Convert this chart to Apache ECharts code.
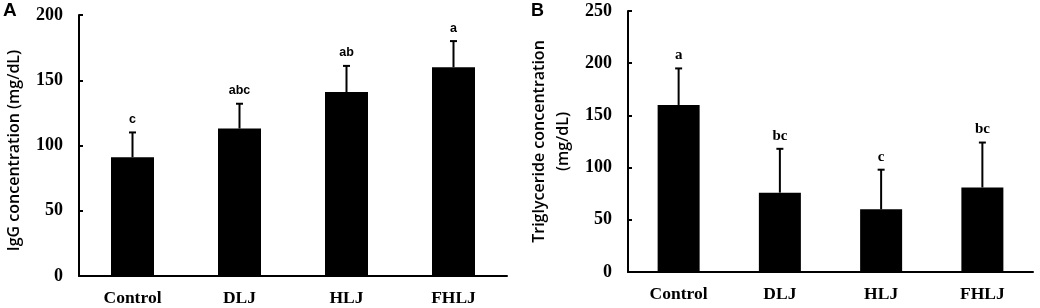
<!DOCTYPE html>
<html>
<head>
<meta charset="utf-8">
<script src="https://cdn.jsdelivr.net/npm/echarts@6/dist/echarts.min.js"></script>
<style>
  html, body { margin: 0; padding: 0; background: #fff; }
  #chart { width: 1040px; height: 308px; }
</style>
</head>
<body>
<div id="chart"></div>
<script>
var groups = ['Control', 'DLJ', 'HLJ', 'FHLJ'];

// panel A: IgG
var iggMean = [91, 113, 141, 160];
var iggUpper = [110, 132, 161, 180];
var iggLetters = ['c', 'abc', 'ab', 'a'];

// panel B: triglyceride
var tgMean = [160, 76, 60, 81];
var tgUpper = [195, 118, 98, 124];
var tgLetters = ['a', 'bc', 'c', 'bc'];

var serif = 'Liberation Serif';
var sans = 'Open Sans';

function errData(mean, upper, letters) {
  return groups.map(function (g, i) { return [i, mean[i], upper[i], letters[i]]; });
}

function errRender(letterFont, letterSize) {
  return function (params, api) {
    var base = api.coord([api.value(0), api.value(1)]);
    var top = api.coord([api.value(0), api.value(2)]);
    return {
      type: 'group',
      children: [
        { type: 'line', shape: { x1: base[0], y1: base[1], x2: top[0], y2: top[1] },
          style: { stroke: '#000', lineWidth: 2 } },
        { type: 'line', shape: { x1: top[0] - 3.5, y1: top[1], x2: top[0] + 3.5, y2: top[1] },
          style: { stroke: '#000', lineWidth: 2 } },
        { type: 'text', x: top[0], y: top[1] - 13,
          style: { text: api.value(3), fill: '#000', align: 'center', verticalAlign: 'middle',
                   font: 'bold ' + letterSize + 'px "' + letterFont + '"' } }
      ]
    };
  };
}

function yAxis(idx, max, name, gap, pad) {
  return {
    type: 'value', gridIndex: idx, min: 0, max: max, interval: 50,
    name: name, nameLocation: 'middle', nameGap: gap, nameRotate: 90,
    nameTextStyle: { fontFamily: sans, fontWeight: 600, fontSize: 16, color: '#000',
                     lineHeight: 24, padding: pad },
    axisLine: { show: true, lineStyle: { color: '#000', width: 2 } },
    axisTick: { show: true, inside: true, length: 4, lineStyle: { color: '#000', width: 2 } },
    axisLabel: { fontFamily: serif, fontWeight: 'bold', fontSize: 18, color: '#000', margin: 16 },
    splitLine: { show: false }
  };
}

function xAxis(idx) {
  return {
    type: 'category', gridIndex: idx, data: groups,
    axisLine: { lineStyle: { color: '#000', width: 2 } },
    axisTick: { show: false },
    axisLabel: { fontFamily: serif, fontWeight: 'bold', fontSize: 17.5, color: '#000', margin: 13 }
  };
}

var option = {
  animation: false,
  backgroundColor: '#fff',
  grid: [
    { left: 79, right: 533, top: 15, bottom: 32, outerBoundsMode: 'none' },
    { left: 628, right: 7, top: 11, bottom: 36, outerBoundsMode: 'none' }
  ],
  graphic: [
    { type: 'text', left: 3, top: 1, style: { text: 'A', font: 'bold 19px "Liberation Sans"', fill: '#000' } },
    { type: 'text', left: 531, top: 2, style: { text: 'B', font: 'bold 18px "Liberation Sans"', fill: '#000' } }
  ],
  xAxis: [xAxis(0), xAxis(1)],
  yAxis: [
    yAxis(0, 200, 'IgG concentration (mg/dL)', 53, [0, 10, 0, 0]),
    yAxis(1, 250, 'Triglyceride concentration\n(mg/dL)', 53, 0)
  ],
  series: [
    { type: 'bar', xAxisIndex: 0, yAxisIndex: 0, data: iggMean, barWidth: 43,
      itemStyle: { color: '#000' } },
    { type: 'custom', xAxisIndex: 0, yAxisIndex: 0, data: errData(iggMean, iggUpper, iggLetters),
      renderItem: errRender('Liberation Sans', 12.5), z: 3 },
    { type: 'bar', xAxisIndex: 1, yAxisIndex: 1, data: tgMean, barWidth: 42,
      itemStyle: { color: '#000' } },
    { type: 'custom', xAxisIndex: 1, yAxisIndex: 1, data: errData(tgMean, tgUpper, tgLetters),
      renderItem: errRender(serif, 15), z: 3 }
  ]
};

var myChart = echarts.init(document.getElementById('chart'));
myChart.setOption(option);
</script>
</body>
</html>
